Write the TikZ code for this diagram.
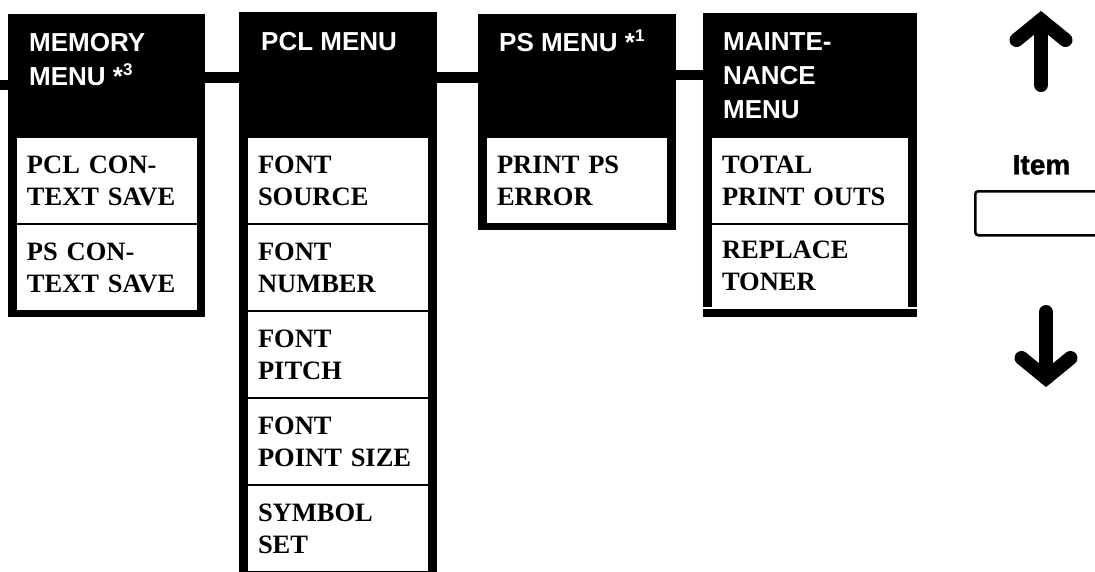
\documentclass[tikz,border=0pt]{standalone}
\usepackage{fontspec}
\setmainfont{Liberation Serif}
\setsansfont{Liberation Sans}
\newfontfamily\keyfamily{Liberation Sans}[UprightFont=*, BoldFont=* Bold, BoldFeatures={FakeBold=1.2}]
\usetikzlibrary{positioning}
\newcommand{\menufont}{\sffamily\bfseries\fontsize{26}{34}\selectfont}
\newcommand{\entryfont}{\rmfamily\bfseries\fontsize{26.5}{32}\selectfont}
\newcommand{\keyfont}{\keyfamily\bfseries\fontsize{28}{30}\selectfont}
\newcommand{\fnmark}[1]{\smash{*\raisebox{10pt}{\fontsize{17}{17}\selectfont #1}}}

\begin{document}
\begin{tikzpicture}[
        x=1pt, y=-1pt,
        menucol/.style={fill=black, inner sep=0pt, outer sep=0pt, anchor=north west},
        menutitle/.style={text=white, font=\menufont, align=left, inner sep=0pt, anchor=north west},
        entry/.style={
            fill=white,
            inner xsep=10pt,
            inner ysep=0pt,
            outer sep=0pt,
            minimum height=85pt,
            text width=160pt,
            align=left,
            font=\entryfont,
            anchor=north west
        },
        link/.style={line width=11pt},
        keyarrow/.style={line width=14pt, line cap=round, line join=miter},
        keybox/.style={draw, line width=2.5pt, rounded corners=3pt, anchor=north west, inner sep=0pt},
        node distance=2pt
    ]
        \useasboundingbox (0,0) rectangle (1095,571);

        % menu columns
        \node[menucol, minimum width=197pt, minimum height=303pt] (memcol) at (8,14) {};
        \node[menucol, minimum width=198pt, minimum height=560pt] (pclcol) at (239,12) {};
        \node[menucol, minimum width=198pt, minimum height=216pt] (pscol) at (478,14) {};
        \node[menucol, minimum width=214pt, minimum height=294pt] (maintcol) at (703,13) {};
        \node[menucol, minimum width=214pt, minimum height=8pt] (maintbar) at (703,309) {};

        \node[menutitle] (memtitle) at ([shift={(21,19)}]memcol.north west) {MEMORY\\MENU \fnmark{3}};
        \node[menutitle] (pcltitle) at ([shift={(22,20)}]pclcol.north west) {PCL MENU};
        \node[menutitle] (pstitle) at ([shift={(21,19)}]pscol.north west) {PS MENU \fnmark{1}};
        \node[menutitle] (mainttitle) at ([shift={(20,19)}]maintcol.north west) {MAINTE-\\NANCE\\MENU};

        % items
        \node[entry] (pclsave) at (17,138) {PCL CON-\\TEXT SAVE};
        \node[entry, below=of pclsave] (pssave) {PS CON-\\TEXT SAVE};

        \node[entry] (fontsource) at (248,138) {FONT\\SOURCE};
        \node[entry, below=of fontsource] (fontnumber) {FONT\\NUMBER};
        \node[entry, below=of fontnumber] (fontpitch) {FONT\\PITCH};
        \node[entry, below=of fontpitch] (fontsize) {FONT\\POINT SIZE};
        \node[entry, below=of fontsize] (symbolset) {SYMBOL\\SET};

        \node[entry] (pserror) at (487,138) {PRINT PS\\ERROR};

        \node[entry, text width=176pt] (printouts) at (712,138) {TOTAL\\PRINT OUTS};
        \node[entry, text width=176pt, minimum height=82pt, below=of printouts] (toner) {REPLACE\\TONER};

        % links between menus
        \coordinate (entrypt) at (0,85);
        \draw[link, line width=10pt] (entrypt) -- (entrypt -| memcol.west);
        \draw[link] ([yshift=-63.5pt]memcol.north east) -- ([yshift=-63.5pt]memcol.north east -| pclcol.west);
        \draw[link] ([yshift=-65pt]pclcol.north east) -- ([yshift=-65pt]pclcol.north east -| pscol.west);
        \draw[link, line width=10pt] ([yshift=-61pt]pscol.north east) -- ([yshift=-61pt]pscol.north east -| maintcol.west);

        % Item key with up and down arrows
        \draw[keyarrow] (1041,85) -- (1041,20);
        \draw[keyarrow] (1016.5,40) -- (1041,20) -- (1065.5,40);
        \node[font=\keyfont, inner sep=0pt] (itemlabel) at (1041.5,165) {Item};
        \node[keybox, minimum width=140pt, minimum height=44pt] (itemkey) at (974,190) {};
        \draw[keyarrow] (1046,312) -- (1046,378);
        \draw[keyarrow] (1021.5,358) -- (1046,378) -- (1070.5,358);
    \end{tikzpicture}
\end{document}
